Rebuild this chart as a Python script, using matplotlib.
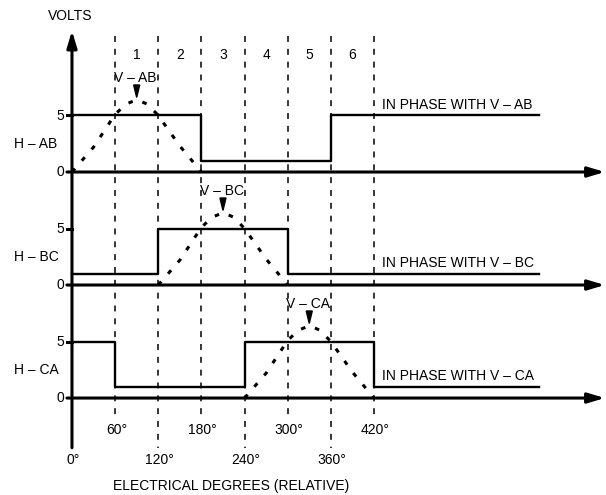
import matplotlib.pyplot as plt
from matplotlib.patches import Polygon

plt.rcParams['font.family'] = ['Liberation Sans', 'DejaVu Sans']
plt.rcParams['font.size'] = 10

# sector boundaries (electrical degrees) and sector numbers
sector_edges = [60, 120, 180, 240, 300, 360, 420]
sector_names = ['1', '2', '3', '4', '5', '6']
degree_ticks = [0, 60, 120, 180, 240, 300, 360, 420]
degree_labels = ['0°', '60°', '120°', '180°', '240°', '300°', '360°', '420°']

# hall sensor outputs, step edges and levels (volts)
row_names = ['H – AB', 'H – BC', 'H – CA']
h_edges = [[0, 180, 360, 650], [0, 120, 300, 650], [0, 60, 240, 420, 650]]
h_levels = [[5, 1, 5], [1, 5, 1], [5, 1, 5, 1]]
phase_text = ['IN PHASE WITH V – AB', 'IN PHASE WITH V – BC', 'IN PHASE WITH V – CA']

# back-emf hump
v_names = ['V – AB', 'V – BC', 'V – CA']
v_start = [0, 120, 240]
v_deg = [0, 30, 60, 75, 90, 105, 120, 150, 180]
v_volts = [0, 2.2, 5.1, 6.0, 6.4, 6.0, 5.0, 2.3, 0]

row_base = [20, 10, 0]   # vertical offset of each trace

fig = plt.figure(figsize=(6.06, 4.95), dpi=100)
ax = fig.add_axes([0, 0, 1, 1])
ax.set_xlim(-100.1, 742.7)
ax.set_ylim(-8.58, 35.22)
ax.axis('off')

arrow = dict(arrowstyle='-|>,head_length=1.0,head_width=0.3', mutation_scale=10,
             lw=2.2, color='black', shrinkA=0, shrinkB=0)

# vertical dashed sector lines + degree labels
for d in sector_edges:
    bottom = -1.8 if (d // 60) % 2 == 1 else -4.4
    ax.plot([d, d], [32, bottom], color='black', lw=1.1, ls=(0, (3.9, 4.5)))
for d, lab in zip(degree_ticks, degree_labels):
    y = -2.85 if (d // 60) % 2 == 1 else -5.5
    ax.text(d + 2, y, lab, ha='center', va='center')
for i, name in enumerate(sector_names):
    ax.text(90 + 60 * i, 30.35, name, ha='center', va='center')

# vertical axis
ax.annotate('', xy=(0, 32.5), xytext=(0, -4.4), arrowprops=arrow)
ax.text(-2.8, 33.8, 'VOLTS', ha='center', va='center')
ax.text(221, -7.8, 'ELECTRICAL DEGREES (RELATIVE)', ha='center', va='center')

for r in range(3):
    base = row_base[r]
    # baseline with arrow
    ax.annotate('', xy=(741, base), xytext=(-7, base), arrowprops=arrow)
    ax.plot([-7, 0], [base + 5, base + 5], color='black', lw=2.2)
    ax.text(-11, base + 5, '5', ha='right', va='center')
    ax.text(-11, base, '0', ha='right', va='center')
    ax.text(-50, base + 2.5, row_names[r], ha='center', va='center')

    # square wave
    ys = [base + v for v in h_levels[r]]
    ax.step(h_edges[r], ys + [ys[-1]], where='post', color='black', lw=1.7)
    last = h_levels[r][-1]
    ax.text(431, base + last + 0.35, phase_text[r], ha='left', va='bottom')

    # dashed voltage hump
    s = v_start[r]
    ax.plot([s + d for d in v_deg], [base + v for v in v_volts], color='black',
            lw=2.2, ls=(0, (1.5, 3.4)), dash_capstyle='butt')
    c = s + 90
    ax.add_patch(Polygon([(c - 4.2, base + 7.7), (c + 4.2, base + 7.7), (c, base + 6.6)],
                         closed=True, color='black'))
    ax.text(c - 2, base + 8.35, v_names[r], ha='center', va='center')

fig.savefig('out.png', dpi=100)
